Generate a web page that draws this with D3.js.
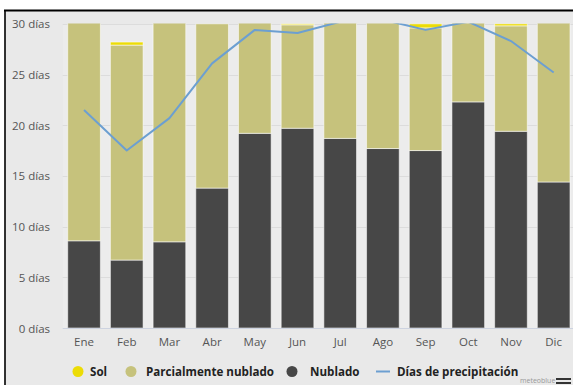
<!DOCTYPE html>
<html>
<head>
<meta charset="utf-8">
<script src="https://cdn.jsdelivr.net/npm/d3@7"></script>
<style>
  html, body { margin: 0; padding: 0; background: #fff; }
  svg { display: block; }
  text { font-family: "Open Sans", "DejaVu Sans", sans-serif; }
</style>
</head>
<body>
<svg id="chart" width="573" height="385"></svg>
<script>
// Monthly cloud cover and precipitation days
const months = ["Ene", "Feb", "Mar", "Abr", "May", "Jun", "Jul", "Ago", "Sep", "Oct", "Nov", "Dic"];
const nublado = [8.6, 6.7, 8.5, 13.8, 19.2, 19.7, 18.7, 17.7, 17.5, 22.3, 19.4, 14.4];
const parcial = [22.1, 21.2, 22.3, 16.2, 11.6, 10.2, 12.1, 13.1, 12.1, 8.5, 10.4, 16.4];
const sol = [0.3, 0.3, 0.2, 0.0, 0.2, 0.1, 0.2, 0.2, 0.4, 0.2, 0.2, 0.2];
const precipitacion = [21.5, 17.5, 20.7, 26.1, 29.4, 29.1, 30.2, 30.4, 29.4, 30.2, 28.3, 25.2];
const yTicks = [0, 5, 10, 15, 20, 25, 30];
const legendItems = ["Sol", "Parcialmente nublado", "Nublado", "Días de precipitación"];

const colors = {
  sol: "#ecdc06",
  parcial: "#c6c27c",
  nublado: "#474747",
  line: "#6c9fd1"
};

const W = 573, H = 385;
const svg = d3.select("#chart");

// frame background
svg.append("rect").attr("x", 5).attr("y", 10).attr("width", W - 5).attr("height", H - 10).attr("fill", "#e9e9e9");
svg.append("line").attr("x1", 4).attr("x2", W).attr("y1", 10.5).attr("y2", 10.5).attr("stroke", "#000").attr("stroke-width", 2);
svg.append("line").attr("x1", 5).attr("x2", 5).attr("y1", 10).attr("y2", H).attr("stroke", "#000").attr("stroke-width", 1.6);

const plot = { left: 62.7, right: 575, top: 23.8, bottom: 328 };

const x = d3.scaleBand().domain(months).range([plot.left, plot.right]).paddingInner(0.235).paddingOuter(0.1175);
const y = d3.scaleLinear().domain([0, 30]).range([plot.bottom, plot.top]);

// plot background
svg.append("rect").attr("x", plot.left).attr("y", plot.top).attr("width", plot.right - plot.left)
  .attr("height", plot.bottom - plot.top).attr("fill", "#ececec");

svg.append("defs").append("clipPath").attr("id", "plotClip")
  .append("rect").attr("x", plot.left).attr("y", plot.top - 0.3)
  .attr("width", plot.right - plot.left).attr("height", plot.bottom - plot.top + 0.3);

// horizontal grid
svg.append("g").selectAll("line").data(yTicks.filter(d => d > 0)).join("line")
  .attr("x1", plot.left).attr("x2", plot.right)
  .attr("y1", d => Math.round(y(d)) + 0.5).attr("y2", d => Math.round(y(d)) + 0.5)
  .attr("stroke", "#dcdcdc").attr("stroke-width", 1);

// y axis labels
const yAxis = d3.axisLeft(y).tickValues(yTicks).tickSize(0).tickPadding(0).tickFormat(d => d + " días");
svg.append("g").attr("transform", "translate(50,0)").call(yAxis)
  .call(g => g.select(".domain").remove())
  .call(g => g.selectAll("text").attr("fill", "#555").attr("font-size", "11.5px").attr("dy", "0.35em"));

// stacked bars
const stackData = months.map((m, i) => ({ month: m, nublado: nublado[i], parcial: parcial[i], sol: sol[i] }));
const stack = d3.stack().keys(["nublado", "parcial", "sol"])(stackData);

const barsG = svg.append("g").attr("clip-path", "url(#plotClip)");
barsG.selectAll("g").data(stack).join("g")
  .attr("fill", d => colors[d.key])
  .selectAll("rect").data(d => d).join("rect")
  .attr("x", d => x(d.data.month))
  .attr("y", d => y(d[1]))
  .attr("width", x.bandwidth())
  .attr("height", d => Math.max(0, y(d[0]) - y(d[1])))
  .attr("stroke", "rgba(255,255,255,0.55)")
  .attr("stroke-width", 1);

// x axis line
svg.append("line").attr("x1", plot.left).attr("x2", plot.right)
  .attr("y1", plot.bottom + 0.5).attr("y2", plot.bottom + 0.5)
  .attr("stroke", "#cdd3e0").attr("stroke-width", 1);

// x axis labels
const xAxis = d3.axisBottom(x).tickSize(0).tickPadding(0);
svg.append("g").attr("transform", `translate(0,${plot.bottom + 14})`).call(xAxis)
  .call(g => g.select(".domain").remove())
  .call(g => g.selectAll("text").attr("fill", "#555").attr("font-size", "11.5px").attr("dy", "0.35em"));

// precipitation line
const line = d3.line()
  .x((d, i) => x(months[i]) + x.bandwidth() / 2)
  .y(d => y(d));
svg.append("g").attr("clip-path", "url(#plotClip)")
  .append("path").datum(precipitacion)
  .attr("d", line).attr("fill", "none")
  .attr("stroke", colors.line).attr("stroke-width", 2).attr("stroke-linejoin", "round");

// legend
const legendY = 371.5;
const lg = svg.append("g").attr("font-size", "11.6px").attr("font-weight", 700).attr("fill", "#222");
const lx = [78, 131, 292, 376];
const tx = [90, 146, 310, 397];
lg.append("circle").attr("cx", lx[0]).attr("cy", legendY).attr("r", 5.5).attr("fill", colors.sol);
lg.append("circle").attr("cx", lx[1]).attr("cy", legendY).attr("r", 5.5).attr("fill", colors.parcial);
lg.append("circle").attr("cx", lx[2]).attr("cy", legendY).attr("r", 5.5).attr("fill", colors.nublado);
lg.append("line").attr("x1", lx[3]).attr("x2", lx[3] + 14).attr("y1", legendY).attr("y2", legendY)
  .attr("stroke", colors.line).attr("stroke-width", 2);
lg.selectAll("text").data(legendItems).join("text")
  .attr("x", (d, i) => tx[i]).attr("y", legendY).attr("dy", "0.35em").text(d => d);

// credit and menu icon
svg.append("text").attr("x", 520).attr("y", 383).attr("font-size", "7px").attr("fill", "#999").text("meteoblue");
const menu = svg.append("g").attr("stroke", "#333").attr("stroke-width", 2);
[379, 383, 387].forEach(v => menu.append("line").attr("x1", 556).attr("x2", 571).attr("y1", v).attr("y2", v));
</script>
</body>
</html>
